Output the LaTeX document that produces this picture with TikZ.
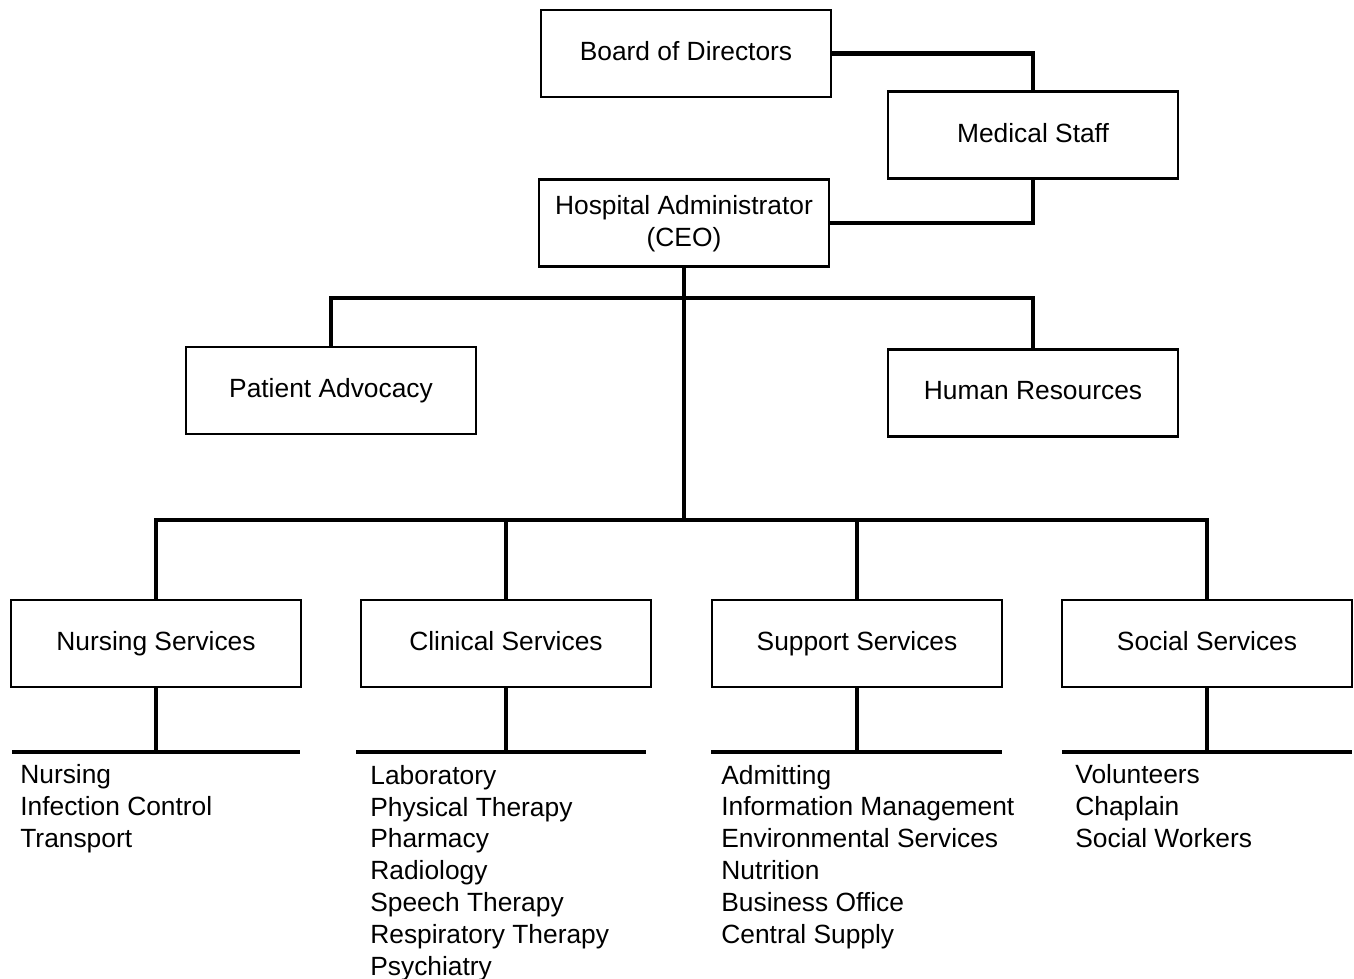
\documentclass[tikz,border=0pt]{standalone}
\usepackage{fontspec}
\setmainfont{Liberation Sans}
\usetikzlibrary{positioning}

\begin{document}
\begin{tikzpicture}[
    x=0.02cm, y=-0.02cm,
    unit/.style={draw, line width=1.3pt, minimum width=5.8cm, minimum height=1.74cm,
                 align=center, inner sep=0pt, text depth=0.25em,
                 font=\fontsize{15}{18.1}\selectfont},
    link/.style={line width=2.5pt},
    duties/.style={anchor=base west, align=left, inner sep=0pt,
                   font=\fontsize{15}{18.1}\selectfont},
]
\useasboundingbox (0,0) rectangle (1354,978);

% Top of the chart
\node[unit] (board) at (686,53.5) {Board of Directors};
\node[unit] (medstaff) at (1033,135) {Medical Staff};
\node[unit] (ceo) at (684,223) {Hospital Administrator\\(CEO)};

% Staff offices
\node[unit] (advocacy) at (331,390.5) {Patient Advocacy};
\node[unit] (hr) at (1033,393) {Human Resources};

% Service divisions
\node[unit] (nursing) at (156,643.5) {Nursing Services};
\node[unit] (clinical) at (506,643.5) {Clinical Services};
\node[unit] (support) at (857,643.5) {Support Services};
\node[unit] (social) at (1207,643.5) {Social Services};

\coordinate (upperbar) at (684,298);
\coordinate (lowerbar) at (684,520);

\draw[link] (board.east) -| (medstaff.north);
\draw[link] (medstaff.south) |- (ceo.east);
\draw[link] (ceo.south) -- (lowerbar);
\draw[link] (advocacy.north) |- (upperbar) -| (hr.north);
\draw[link] (nursing.north) |- (lowerbar) -| (social.north);
\draw[link] (clinical.north) -- (clinical.north |- lowerbar);
\draw[link] (support.north) -- (support.north |- lowerbar);

% Departments under each division (node base = baseline of the last line)
\foreach \div/\from/\to in {nursing/12/300, clinical/356/646, support/711/1002, social/1062/1352} {
    \coordinate (\div-rule) at (\div.south |- 0,752);
    \draw[link] (\div.south) -- (\div-rule);
    \draw[link] (\from,752) -- (\to,752);
}

\node[duties] (nursinglist) at (20,847) {Nursing\\Infection Control\\Transport};
\node[duties] (clinicallist) at (370,975) {Laboratory\\Physical Therapy\\Pharmacy\\Radiology\\Speech Therapy\\Respiratory Therapy\\Psychiatry};
\node[duties] (supportlist) at (721,943) {Admitting\\Information Management\\Environmental Services\\Nutrition\\Business Office\\Central Supply};
\node[duties] (sociallist) at (1075,847) {Volunteers\\Chaplain\\Social Workers};

\end{tikzpicture}
\end{document}
